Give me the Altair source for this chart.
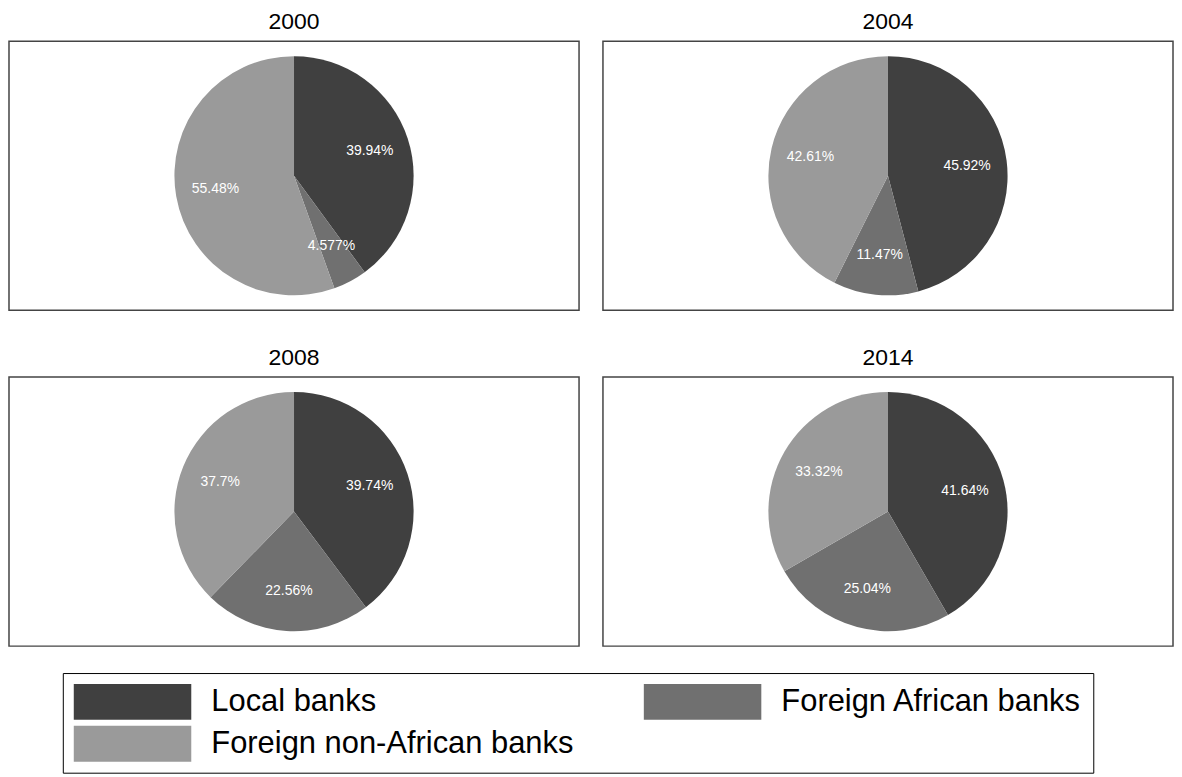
import altair as alt
import pandas as pd

years = ["2000", "2004", "2008", "2014"]
categories = ["Local banks", "Foreign African banks", "Foreign non-African banks"]
values = {
    "2000": [39.94, 4.577, 55.48],
    "2004": [45.92, 11.47, 42.61],
    "2008": [39.74, 22.56, 37.7],
    "2014": [41.64, 25.04, 33.32],
}
labels = {
    "2000": ["39.94%", "4.577%", "55.48%"],
    "2004": ["45.92%", "11.47%", "42.61%"],
    "2008": ["39.74%", "22.56%", "37.7%"],
    "2014": ["41.64%", "25.04%", "33.32%"],
}
colors = ["#404040", "#707070", "#9a9a9a"]

rows = []
for y in years:
    for i, c in enumerate(categories):
        rows.append({"year": y, "category": c, "order": i,
                     "value": values[y][i], "label": labels[y][i]})
df = pd.DataFrame(rows)

FONT = "Liberation Sans"

color = alt.Color(
    "category:N",
    scale=alt.Scale(domain=categories, range=colors),
    legend=alt.Legend(
        orient="none", legendX=54, legendY=634,
        direction="horizontal", columns=2, title=None,
        symbolType="M-1,-1H5.55V1H-1Z", symbolSize=1296,
        symbolStrokeWidth=0, symbolOpacity=1,
        labelFontSize=31, labelFont=FONT, labelColor="black",
        labelOffset=102, labelLimit=600,
        strokeColor="black", padding=11,
        columnPadding=70, rowPadding=6,
    ),
)

base = alt.Chart(df).encode(
    theta=alt.Theta("value:Q", stack="normalize"),
    order=alt.Order("order:Q"),
)

frame = alt.Chart(df).transform_filter("datum.order == 0").mark_rect(
    fill=None, stroke="#444444", strokeWidth=1.5
).encode(
    x=alt.value(0), x2=alt.value("width"),
    y=alt.value(0), y2=alt.value("height"),
)
arcs = base.mark_arc(outerRadius=120, stroke=None).encode(color=color)
text = base.mark_text(radius=80, color="white", fontSize=14, font=FONT).encode(
    text="label:N"
)

chart = (
    alt.layer(frame, arcs, text, data=df)
    .properties(width=572, height=270)
    .facet(
        facet=alt.Facet("year:N", sort=years,
                        header=alt.Header(title=None, labelFontSize=23,
                                          labelFont=FONT, labelColor="black",
                                          labelPadding=6)),
        columns=2,
        spacing=alt.RowColnumber(row=36, column=22),
    )
    .configure_view(stroke=None)
    .properties(padding={"left": 0, "top": 2, "right": 0, "bottom": 0})
)

chart.save("out.html", embed_options={"renderer": "svg", "actions": False})
